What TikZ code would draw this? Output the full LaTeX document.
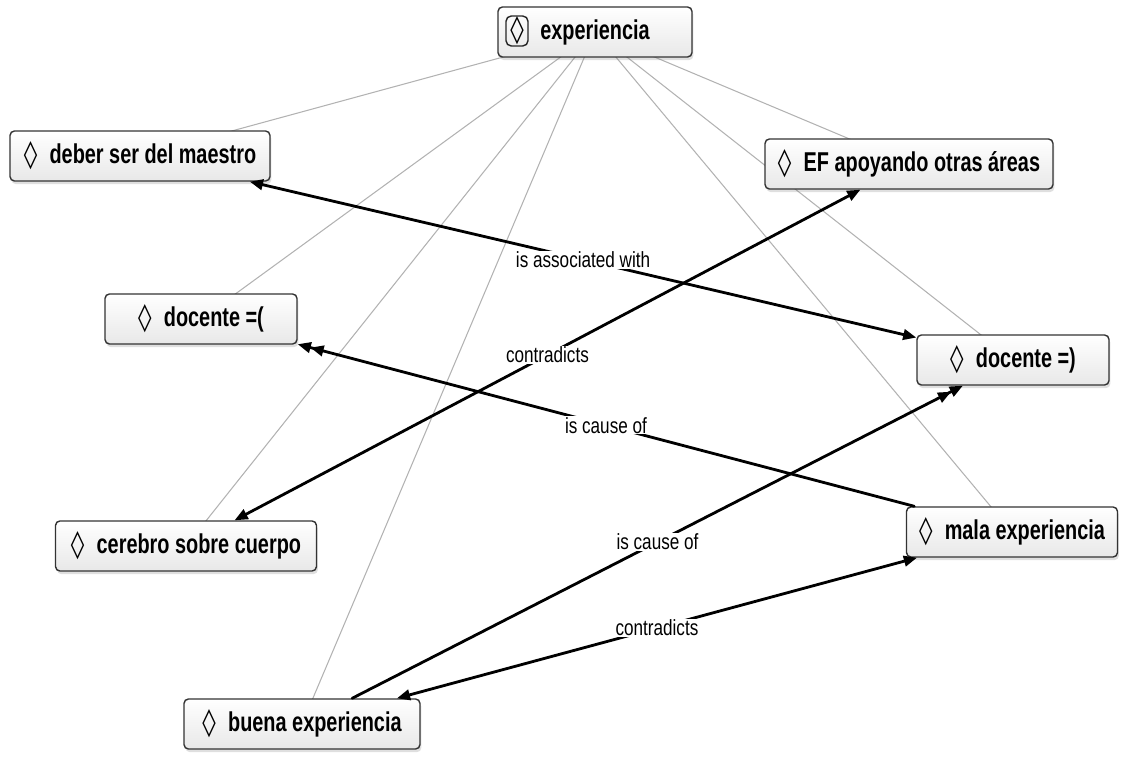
\documentclass[tikz,border=0pt]{standalone}
\usepackage{fontspec}
\setmainfont{Liberation Sans}
\newfontfamily\boxfont[FakeStretch=0.73]{Liberation Sans}
\newfontfamily\linkfont[FakeStretch=0.78]{Liberation Sans}
\newfontfamily\symfont{DejaVu Sans}
\usetikzlibrary{arrows.meta,shadows,backgrounds}
\newcommand{\dia}{{\symfont\mdseries\char"25CA}}
\tikzstyle{every path}=[line cap=round,line join=round]
\tikzstyle{concept}=[draw=black!80,line width=0.8pt,rounded corners=2.5pt,top color=white,bottom color=black!9,minimum height=1cm,inner sep=4pt,font=\boxfont\bfseries\fontsize{15.5}{18}\selectfont,drop shadow={shadow xshift=0.8pt,shadow yshift=-1.8pt,opacity=0.25}]
\tikzstyle{focusmark}=[draw=black!85,line width=0.8pt,rounded corners=3pt,minimum width=0.44cm,minimum height=0.6cm,inner sep=0pt,font=\fontsize{15.5}{18}\selectfont]
\tikzstyle{tie}=[black!30,line width=0.6pt]
\tikzstyle{rel}=[black,line width=1.6pt,>={Triangle[length=7.5pt,width=6pt]}]
\tikzstyle{rlabel}=[fill=white,inner sep=0.5pt,font=\linkfont\fontsize{12.5}{14}\selectfont]

\begin{document}
\begin{tikzpicture}[x=0.02cm,y=-0.02cm]
  \useasboundingbox (0,0) rectangle (1125,759);
  \node[concept,minimum width=3.88cm] (exp) at (595,32) {experiencia};
  \node[focusmark] (expmark) at (517,31) {\dia};
  \node[concept,minimum width=5.2cm] (deber) at (140,156) {\dia\hspace{7pt}deber ser del maestro};
  \node[concept,minimum width=5.76cm] (ef) at (909,164) {\dia\hspace{7pt}EF apoyando otras áreas};
  \node[concept,minimum width=3.84cm] (docsad) at (201,319) {\dia\hspace{7pt}docente =(};
  \node[concept,minimum width=3.84cm] (dochap) at (1013,360) {\dia\hspace{7pt}docente =)};
  \node[concept,minimum width=5.22cm] (cerebro) at (186,546) {\dia\hspace{7pt}cerebro sobre cuerpo};
  \node[concept,minimum width=4.22cm] (mala) at (1012,532) {\dia\hspace{7pt}mala experiencia};
  \node[concept,minimum width=4.72cm] (buena) at (302,724) {\dia\hspace{7pt}buena experiencia};

  \begin{scope}[on background layer]
    \foreach \n in {deber,ef,docsad,dochap,cerebro,mala,buena}
      \draw[tie] (exp.center) -- (\n.center);
  \end{scope}

  \draw[rel,<->] (deber) -- node[rlabel] {is associated with} (dochap);
  \draw[rel,<->] (ef) -- node[rlabel] {contradicts} (cerebro);
  \draw[rel,->>] (mala) -- node[rlabel] {is cause of} (docsad);
  \draw[rel,->>] (buena) -- node[rlabel] {is cause of} (dochap);
  \draw[rel,<->] (mala) -- node[rlabel] {contradicts} (buena);
\end{tikzpicture}
\end{document}
